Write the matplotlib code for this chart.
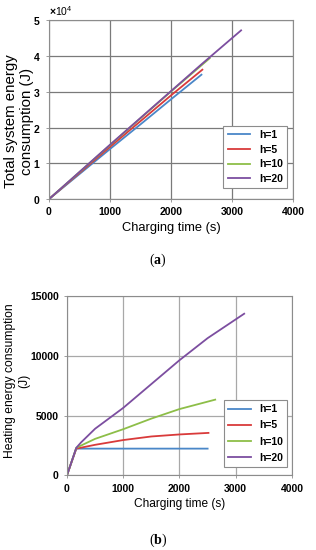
import matplotlib
matplotlib.use("Agg")
from matplotlib import pyplot as plt
from matplotlib.ticker import ScalarFormatter

plt.rcParams['font.family'] = ['Liberation Sans', 'DejaVu Sans']
plt.rcParams['font.weight'] = 'bold'
plt.rcParams['mathtext.fontset'] = 'custom'
plt.rcParams['mathtext.rm'] = 'Liberation Sans'
plt.rcParams['mathtext.bf'] = 'Liberation Serif:bold'

labels = ['h=1', 'h=5', 'h=10', 'h=20']
colors = ['#4A87C8', '#D93A3A', '#8DBE48', '#7C4EA0']

# (a) total system energy consumption (J)
total_t = [[0, 500, 1000, 1500, 2000, 2500],
           [0, 500, 1000, 1500, 2000, 2515],
           [0, 500, 1000, 1500, 2000, 2635],
           [0, 500, 1000, 1500, 2000, 2500, 3150]]
total_e = [[0, 7000, 14000, 20900, 27900, 34800],
           [0, 7300, 14600, 21800, 29000, 36200],
           [0, 7550, 15100, 22600, 30100, 39400],
           [0, 7600, 15200, 22700, 30200, 37700, 47200]]

# (b) heating energy consumption (J)
heat_t = [[0, 165, 2500],
          [0, 165, 500, 1000, 1500, 2000, 2515],
          [0, 165, 500, 1000, 1500, 2000, 2635],
          [0, 165, 250, 500, 1000, 1500, 2000, 2500, 3150]]
heat_e = [[0, 2230, 2230],
          [0, 2230, 2550, 2950, 3250, 3420, 3550],
          [0, 2300, 3050, 3860, 4750, 5550, 6340],
          [0, 2300, 2750, 3900, 5650, 7650, 9650, 11500, 13550]]


def style_axes(ax, gridcolor, xlabel_size):
    ax.grid(True, color=gridcolor, linewidth=0.9)
    ax.set_axisbelow(True)
    for s in ax.spines.values():
        s.set_color('#8c8c8c')
        s.set_linewidth(0.8)
    ax.tick_params(direction='out', length=2.5, width=0.6, color='#8c8c8c', labelsize=7.5, pad=3.5)
    ax.set_xlim(0, 4000)
    ax.set_xticks([0, 1000, 2000, 3000, 4000])
    ax.set_xlabel('Charging time (s)', fontsize=xlabel_size, fontweight='normal', labelpad=3)


def add_legend(ax, anchor, spacing):
    leg = ax.legend(loc='lower right', bbox_to_anchor=anchor, borderaxespad=0,
                    prop={'size': 7.5, 'weight': 'bold'}, handlelength=2.2,
                    labelspacing=spacing, fancybox=False, framealpha=1)
    leg.get_frame().set_edgecolor('#8c8c8c')
    leg.get_frame().set_linewidth(0.8)


fig = plt.figure(figsize=(3.16, 5.5), dpi=100)

ax1 = fig.add_axes([0.155, 0.638, 0.772, 0.325])
for t, e, c, lab in zip(total_t, total_e, colors, labels):
    ax1.plot(t, e, color=c, linewidth=1.3, label=lab)
ax1.set_ylim(0, 50000)
ax1.set_yticks([0, 10000, 20000, 30000, 40000, 50000])
fmt = ScalarFormatter(useMathText=True)
fmt.set_powerlimits((0, 0))
ax1.yaxis.set_major_formatter(fmt)
ax1.yaxis.get_offset_text().set_fontsize(7.5)
ax1.yaxis.get_offset_text().set_fontweight('normal')
ax1.set_ylabel('Total system energy\nconsumption (J)', fontsize=10.8, fontweight='normal')
ax1.yaxis.set_label_coords(-0.062, 0.436)
style_axes(ax1, '#7a7a7a', 9.3)
add_legend(ax1, (0.975, 0.061), 0.45)

ax2 = fig.add_axes([0.212, 0.136, 0.712, 0.325])
for t, e, c, lab in zip(heat_t, heat_e, colors, labels):
    ax2.plot(t, e, color=c, linewidth=1.3, label=lab)
ax2.set_ylim(0, 15000)
ax2.set_yticks([0, 5000, 10000, 15000])
ax2.set_ylabel('Heating energy consumption\n(J)', fontsize=8.7, fontweight='normal')
ax2.yaxis.set_label_coords(-0.165, 0.53)
style_axes(ax2, '#a8a8a8', 8.6)
add_legend(ax2, (0.978, 0.045), 0.6)

fig.text(0.5, 0.527, r'($\mathbf{a}$)', ha='center', va='center', fontsize=10,
         fontweight='normal', family='Liberation Serif')
fig.text(0.5, 0.018, r'($\mathbf{b}$)', ha='center', va='center', fontsize=10,
         fontweight='normal', family='Liberation Serif')

fig.savefig('out.png', dpi=100)
